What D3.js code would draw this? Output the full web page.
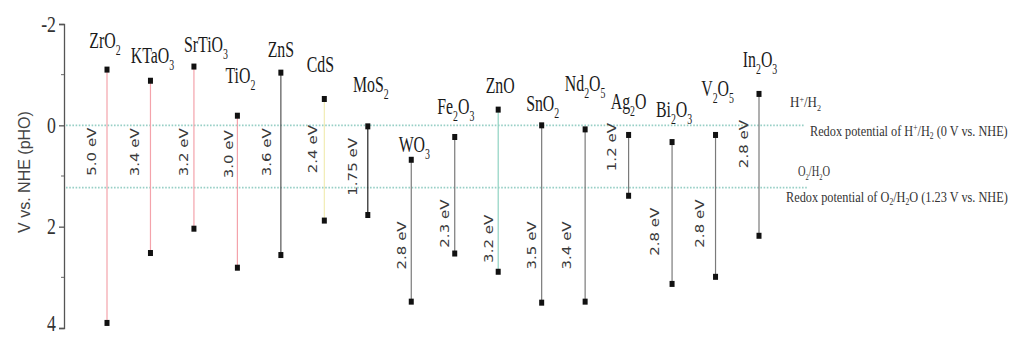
<!DOCTYPE html>
<html>
<head>
<meta charset="utf-8">
<script src="https://cdn.jsdelivr.net/npm/d3@7"></script>
<style>
  html, body { margin: 0; padding: 0; background: #fff; }
  svg { display: block; }
</style>
</head>
<body>
<svg id="chart" width="1010" height="337"></svg>
<script>
// Semiconductor band edges (V vs. NHE); "_n" marks a subscript digit.
const materials = ["ZrO_2", "KTaO_3", "SrTiO_3", "TiO_2", "ZnS", "CdS", "MoS_2", "WO_3",
                   "Fe_2O_3", "ZnO", "SnO_2", "Nd_2O_5", "Ag_2O", "Bi_2O_3", "V_2O_5", "In_2O_3"];
const bandGaps = [5.0, 3.4, 3.2, 3.0, 3.6, 2.4, 1.75, 2.8, 2.3, 3.2, 3.5, 3.4, 1.2, 2.8, 2.8, 2.8];
const conductionBand = [-1.1, -0.88, -1.16, -0.19, -1.04, -0.52, 0.02, 0.68,
                        0.23, -0.31, 0.0, 0.08, 0.19, 0.33, 0.19, -0.62];
const yTicks = [-2, 0, 2, 4];
const yMinorTicks = [-1, 1, 3];
const redoxLevels = [0, 1.23];

// Valence band edge = conduction band edge + band gap
const valenceBand = conductionBand.map((cb, i) => cb + bandGaps[i]);

// ---- styling / layout ----
const lineColour = {
  "ZrO_2": "#f4a3ab", "KTaO_3": "#f4a3ab", "SrTiO_3": "#f4a3ab", "TiO_2": "#f4a3ab",
  "ZnS": "#555", "CdS": "#f1ecb4", "MoS_2": "#222", "ZnO": "#8fd2c2"
};
// name label: [x offset from line, lift of baseline above the top marker]
const nameLayout = [[-2, 22], [2, 18], [12, 15], [3, 33], [0, 16], [-4, 27], [3, 34], [3, 8],
                    [1, 23], [2, 17], [1, 14], [0, 38], [0, 26], [2, 25], [2, 39], [1, 27]];
// gap label: [x offset from line, vertical centre in V]
const gapLayout = [[-15, 0.52], [-16, 0.53], [-10, 0.53], [-9, 0.57], [-14, 0.53], [-12, 0.47],
                   [-15, 0.82], [-10, 2.37], [-10, 1.94], [-10, 2.24], [-10, 2.37], [-18, 2.37],
                   [-17, 0.43], [-17, 2.10], [-16, 1.94], [-15, 0.37]];

const svg = d3.select("#chart");

const y = d3.scaleLinear().domain([-2, 4]).range([24, 328]);
const x = d3.scalePoint().domain(materials).range([107, 759]);
const axisX = 64;
const lineEnd = 805;

// y axis with outward major ticks and small minor ticks
const yAxis = svg.append("g")
  .attr("transform", `translate(${axisX},0)`)
  .call(d3.axisLeft(y).tickValues(yTicks).tickSize(5).tickSizeOuter(5)
        .tickFormat(d => String(d)));
yAxis.select(".domain").attr("stroke", "#555").attr("stroke-width", 1.3);
yAxis.selectAll(".tick line").attr("stroke", "#555").attr("stroke-width", 1.3);
// condensed serif tick labels; the lowest one sits a little higher to stay inside the frame
yAxis.selectAll(".tick text")
  .attr("font-family", "Liberation Serif, serif")
  .attr("font-size", 24)
  .attr("fill", "#333")
  .attr("x", 0)
  .attr("dy", d => d === 4 ? "0.1em" : "0.3em")
  .attr("text-anchor", "end")
  .attr("transform", "translate(-8,0) scale(0.74,1)");
svg.append("g")
  .selectAll("line")
  .data(yMinorTicks)
  .join("line")
  .attr("x1", axisX - 3).attr("x2", axisX)
  .attr("y1", d => y(d)).attr("y2", d => y(d))
  .attr("stroke", "#666").attr("stroke-width", 1);

// axis title
svg.append("text")
  .attr("transform", `translate(24,172) rotate(-90)`)
  .attr("text-anchor", "middle")
  .attr("dy", "0.35em")
  .attr("font-family", "Liberation Sans, Arial, sans-serif")
  .attr("font-size", 16)
  .attr("fill", "#444")
  .text("V vs. NHE (pHO)");

// redox potential reference lines
svg.append("g")
  .selectAll("line")
  .data(redoxLevels)
  .join("line")
  .attr("x1", axisX + 2).attr("x2", (d, i) => lineEnd + i * 2)
  .attr("y1", d => y(d)).attr("y2", d => y(d))
  .attr("stroke", "#98cfc6")
  .attr("stroke-width", 1.8)
  .attr("stroke-dasharray", "1.6,1.6");

// band-edge lines
const bands = materials.map((m, i) => ({
  name: m, cb: conductionBand[i], vb: valenceBand[i], gap: bandGaps[i],
  nl: nameLayout[i], gl: gapLayout[i]
}));

svg.append("g")
  .selectAll("line")
  .data(bands)
  .join("line")
  .attr("x1", d => x(d.name)).attr("x2", d => x(d.name))
  .attr("y1", d => y(d.cb)).attr("y2", d => y(d.vb))
  .attr("stroke", d => lineColour[d.name] || "#7a7a7a")
  .attr("stroke-width", 1.2);

// end markers
const markerGroup = svg.append("g");
["cb", "vb"].forEach(edge => {
  markerGroup.selectAll(null)
    .data(bands)
    .join("rect")
    .attr("x", d => x(d.name) - 2.5)
    .attr("y", d => y(d[edge]) - 3)
    .attr("width", 5)
    .attr("height", 6)
    .attr("fill", "#111");
});

// append text runs; runs flagged with a shift are drawn smaller and offset vertically
function runs(sel, list, size) {
  let pending = 0;
  list.forEach(([s, shift]) => {
    const t = sel.append("tspan").text(s);
    if (shift) {
      t.attr("font-size", size * 0.62).attr("dy", shift - pending);
      pending = shift;
    } else {
      t.attr("font-size", size);
      if (pending) t.attr("dy", -pending);
      pending = 0;
    }
  });
}
// formula string such as "Fe_2O_3" -> runs with subscripts
function formulaRuns(str, shift) {
  return str.split(/_(\d)/).map((p, i) => [p, i % 2 === 1 ? shift : 0]).filter(r => r[0] !== "");
}

const nameSize = 24;
svg.append("g")
  .selectAll("text")
  .data(bands)
  .join("text")
  .attr("transform", d => `translate(${x(d.name) + d.nl[0]},${y(d.cb) - d.nl[1]}) scale(0.66,1)`)
  .attr("text-anchor", "middle")
  .attr("font-family", "Liberation Serif, serif")
  .attr("font-size", nameSize)
  .attr("fill", "#1a1a1a")
  .each(function (d) { runs(d3.select(this), formulaRuns(d.name, 7), nameSize); });

// band-gap labels
svg.append("g")
  .selectAll("text")
  .data(bands)
  .join("text")
  .attr("transform", d => `translate(${x(d.name) + d.gl[0]},${y(d.gl[1])}) rotate(-90) scale(1,0.8)`)
  .attr("text-anchor", "middle")
  .attr("dy", "0.36em")
  .attr("font-family", "DejaVu Sans, Verdana, sans-serif")
  .attr("font-size", 15)
  .attr("fill", "#3a3a3a")
  .text(d => `${d.gap % 1 === 0 ? d.gap.toFixed(1) : d.gap} eV`);

// annotations for the reference lines, condensed to a set width
function annotation(tx, ty, size, width, list) {
  const t = svg.append("text")
    .attr("font-family", "Liberation Serif, serif")
    .attr("font-size", size)
    .attr("fill", "#333");
  runs(t, list, size);
  const w = t.node().getBBox().width;
  t.attr("transform", `translate(${tx},${ty}) scale(${width / w},1)`);
}

annotation(lineEnd - 15, y(0) - 18, 14, 31,
  [["H", 0], ["+", -5], ["/H", 0], ["2", 4]]);
annotation(lineEnd + 5, y(0) + 11, 15, 198,
  [["Redox potential of H", 0], ["+", -5], ["/H", 0], ["2", 3], [" (0 V vs. NHE)", 0]]);
annotation(lineEnd - 7, y(1.23) - 12, 14, 32,
  [["O", 0], ["2", 4], ["/H", 0], ["2", 4], ["O", 0]]);
annotation(lineEnd - 19, y(1.23) + 14, 15, 222,
  [["Redox potential of O", 0], ["2", 3], ["/H", 0], ["2", 3], ["O (1.23 V vs. NHE)", 0]]);
</script>
</body>
</html>
